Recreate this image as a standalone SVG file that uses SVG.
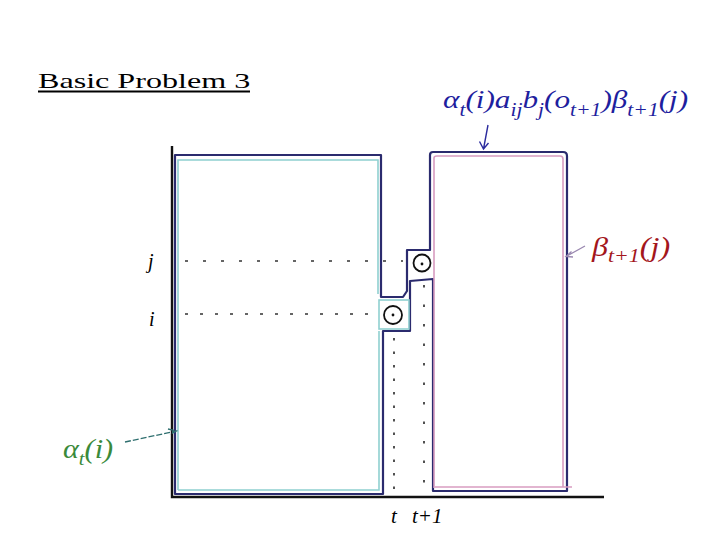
<svg xmlns="http://www.w3.org/2000/svg" width="720" height="540" viewBox="0 0 720 540">
<style>
.navy{fill:none;stroke:#2b2b6e;stroke-width:2.2;stroke-linejoin:round}
.cyan{fill:none;stroke:#8fd0d0;stroke-width:1.6}
.pink{fill:none;stroke:#d89cc0;stroke-width:1.6}
.axis{fill:none;stroke:#111;stroke-width:2.4}
.dots{fill:none;stroke:#333;stroke-width:1.7}
.node{fill:none;stroke:#111;stroke-width:1.8}
.ser{font-family:"Liberation Serif","Times New Roman",serif}
.it{font-family:"Liberation Serif","Times New Roman",serif;font-style:italic}
</style>
<rect width="720" height="540" fill="#fff"/>

<g id="title">
<text class="ser" transform="translate(38,88) scale(1.46,1)" x="0" y="0" font-size="22" fill="#000">Basic Problem 3</text>
<line x1="38" y1="91.5" x2="250" y2="91.5" stroke="#000" stroke-width="2"/>
</g>

<g id="axes">
<path class="axis" d="M172,146 V497 H604"/>
</g>

<g id="regions">
<path class="navy" d="M175,155 H381 V297 H403 L407,291 V250 H430 V155 Q430,152 433,152 H563 Q567,152 567,156 V491 H433 V279 L410,281 V331 H383 V494 H175 Z"/>
</g>

<g id="alpha-region">
<path class="cyan" d="M178,490 V160 H378 V294"/>
<path class="cyan" d="M178,490 H379 V331"/>
<rect class="cyan" x="379" y="300" width="30" height="29"/>
</g>

<g id="beta-region">
<path class="pink" d="M434,488 V158 Q434,156 437,156 H560 Q563,156 563,159 V487"/>
<path class="pink" d="M435,487 H572"/>
</g>

<g id="node-j">
<circle class="node" cx="422" cy="263" r="8.5"/>
<circle cx="422" cy="264" r="1.4" fill="#111"/>
</g>

<g id="node-i">
<circle class="node" cx="393" cy="315" r="9"/>
<circle cx="393" cy="315" r="1.4" fill="#111"/>
</g>

<g id="connectors">
<line class="dots" x1="185" y1="261" x2="403" y2="261" stroke-dasharray="3 15"/>
<line class="dots" x1="185" y1="314" x2="376" y2="314" stroke-dasharray="3 12"/>
<line class="dots" x1="394" y1="338" x2="394" y2="490" stroke-dasharray="2.5 11"/>
<line class="dots" x1="424" y1="285" x2="424" y2="490" stroke-dasharray="2.5 17"/>
<path d="M488,125 L483.5,149 M479.5,141.5 L483.5,149 L488.5,143" fill="none" stroke="#2b2b9e" stroke-width="1.4"/>
<path d="M585,246 L566,256.5 M571.5,251.5 L566,256.5 L573,257" fill="none" stroke="#9a88b0" stroke-width="1.3"/>
<path d="M125,442 L176.5,431 M168,429 L176.5,431 L170,434.5" fill="none" stroke="#2f6f6f" stroke-width="1.3" stroke-dasharray="6 2"/>
</g>

<g id="labels">
<text class="it" transform="translate(443,107.5) scale(1.2,1)" x="0" y="0" font-size="26" fill="#1e1e9e">α<tspan font-size="18" dy="8">t</tspan><tspan dy="-8">(i)a</tspan><tspan font-size="18" dy="8">ij</tspan><tspan dy="-8">b</tspan><tspan font-size="18" dy="8">j</tspan><tspan dy="-8">(o</tspan><tspan font-size="18" dy="8">t+1</tspan><tspan dy="-8">)β</tspan><tspan font-size="18" dy="8">t+1</tspan><tspan dy="-8">(j)</tspan></text>
<text class="it" transform="translate(592,256) scale(1.15,1)" x="0" y="0" font-size="28" fill="#a3161c">β<tspan font-size="19" dy="6">t+1</tspan><tspan dy="-6">(j)</tspan></text>
<text class="it" transform="translate(63,458) scale(1.08,1)" x="0" y="0" font-size="28" fill="#3a8a3a">α<tspan font-size="19" dy="7">t</tspan><tspan dy="-7">(i)</tspan></text>
<text class="it" x="148" y="268" font-size="20" fill="#000">j</text>
<text class="it" x="149" y="326" font-size="20" fill="#000">i</text>
<text class="it" x="391" y="523" font-size="21" fill="#000">t</text>
<text class="it" x="412" y="523" font-size="21" fill="#000">t+1</text>
</g>
</svg>
